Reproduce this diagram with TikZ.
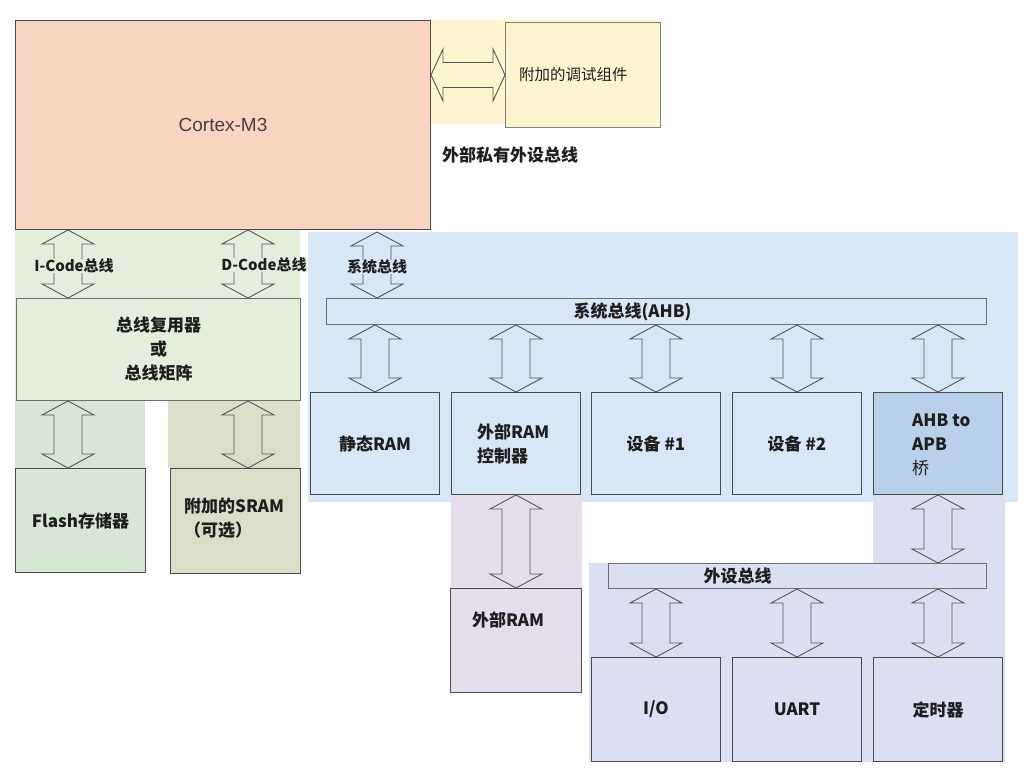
\documentclass[tikz,border=0pt]{standalone}
\usepackage{fontspec}
\setmainfont{Noto Sans CJK SC}
\newfontfamily\arialfont{Liberation Sans}
\usepackage{tikz}
\usetikzlibrary{positioning,calc}

\definecolor{cortexfill}{HTML}{F8D4C1}
\definecolor{yellowbg}{HTML}{FFF4D0}
\definecolor{greenbg}{HTML}{E2EFDA}
\definecolor{flashbg}{HTML}{D6E8D4}
\definecolor{srambg}{HTML}{DDDEC9}
\definecolor{bluebg}{HTML}{D7E7F5}
\definecolor{bridgefill}{HTML}{B8D0EA}
\definecolor{purplebg}{HTML}{E5DCEC}
\definecolor{periphbg}{HTML}{D9E0F1}
\definecolor{boxline}{HTML}{4A4A4A}
\definecolor{arrowline}{HTML}{555555}
\definecolor{textcol}{HTML}{1E1E1E}

\tikzset{BOX/.style={rectangle, draw=boxline, line width=1pt, inner sep=0pt, anchor=north west, align=center, text=textcol, font=\bfseries\fontsize{17pt}{24pt}\selectfont}}
\tikzset{BAR/.style={BOX, draw=boxline!80}}
\tikzset{LABEL/.style={inner sep=1pt, align=left, text=textcol, font=\bfseries\fontsize{17pt}{24pt}\selectfont}}
\tikzset{BUSLABEL/.style={LABEL, inner sep=0pt, font=\bfseries\fontsize{15pt}{18pt}\selectfont}}
\tikzset{BUSARROW/.style={draw=arrowline, line width=0.9pt, line join=miter}}

% hollow double arrow, top tip -> bottom tip
\newcommand{\VBUS}[2]{%
    \draw[BUSARROW] (#1) -- ++(-26,14) -- ++(12,0) -- ($(#2)+(-14,-14)$) -- ++(-12,0) -- (#2)
        -- ++(26,-14) -- ++(-12,0) -- ($(#1)+(14,14)$) -- ++(12,0) -- cycle;}
% hollow double arrow, left tip -> right tip
\newcommand{\HBUS}[2]{%
    \draw[BUSARROW] (#1) -- ++(12,-26) -- ++(0,13.5) -- ($(#2)+(-12,-12.5)$) -- ++(0,-13.5) -- (#2)
        -- ++(-12,26) -- ++(0,-13.5) -- ($(#1)+(12,12.5)$) -- ++(0,13.5) -- cycle;}

\begin{document}
\begin{tikzpicture}[x=1pt, y=-1pt]
    \useasboundingbox (0,0) rectangle (1036,774);

    % coloured areas
    \fill[yellowbg] (430,20) rectangle (660,124);
    \fill[greenbg] (15,229) rectangle (300,400);
    \fill[flashbg] (15,400) rectangle (145,468);
    \fill[srambg] (168,400) rectangle (300,468);
    \fill[bluebg] (308,232) rectangle (1018,502);
    \fill[purplebg] (451,494) rectangle (582,588);
    \fill[periphbg] (873,494) rectangle (1005,563);
    \fill[periphbg] (589,563) rectangle (1005,762);

    % core and debug
    \node[BOX, fill=cortexfill, minimum width=415pt, minimum height=209pt, font=\arialfont\fontsize{19pt}{22pt}\selectfont, text=cortexfill!30!black] (cortex) at (15,20) {Cortex-M3};
    \node[BOX, draw=boxline!70, fill=yellowbg, minimum width=155pt, minimum height=105pt] (debug) at (505,22) {};
    \node[anchor=west, text=textcol, font=\fontsize{15.5pt}{18pt}\selectfont, inner sep=0pt] (debug_txt) at ($(debug.west)+(14,-0)$) {附加的调试组件};
    \node[LABEL, anchor=west] (ppb_txt) at (441,155) {外部私有外设总线};

    \coordinate (dbg_l) at (cortex.east |- debug.west);
    \coordinate (dbg_r) at (debug.west);
    \HBUS{dbg_l}{dbg_r}

    % code side
    \node[BOX, draw=boxline!80, fill=greenbg, minimum width=284pt, minimum height=102pt] (mux) at (16,298) {总线复用器\\或\\ 总线矩阵};
    \node[BOX, fill=flashbg, minimum width=130pt, minimum height=104pt] (flash) at (15,468) {Flash存储器};
    \node[BOX, fill=srambg, minimum width=130pt, minimum height=105pt] (sram) at (170,468) {};
    \node[LABEL, anchor=west] (sram_txt) at ($(sram.west)+(13,-3)$) {附加的SRAM\\（可选）};

    \coordinate (icode_t) at (68,230);
    \coordinate (icode_b) at (icode_t |- mux.north);
    \coordinate (dcode_t) at (248,230);
    \coordinate (dcode_b) at (dcode_t |- mux.north);
    \VBUS{icode_t}{icode_b}
    \VBUS{dcode_t}{dcode_b}
    \node[BUSLABEL, fill=greenbg] (icode_txt) at (74,266) {I-Code总线};
    \node[BUSLABEL, fill=greenbg] (dcode_txt) at (264,265) {D-Code总线};

    \coordinate (flash_t) at (icode_t |- mux.south);
    \coordinate (flash_b) at (icode_t |- flash.north);
    \coordinate (sram_t) at (dcode_t |- mux.south);
    \coordinate (sram_b) at (dcode_t |- sram.north);
    \VBUS{flash_t}{flash_b}
    \VBUS{sram_t}{sram_b}

    % system bus
    \node[BAR, fill=bluebg, minimum width=660pt, minimum height=26pt] (ahb) at (326,298) {};
    \node[LABEL] (ahb_txt) at ($(ahb.center)+(-24,0)$) {系统总线(AHB)};

    \node[BOX, fill=bluebg, minimum width=129pt, minimum height=102pt] (sram_int) at (310,392) {静态RAM};
    \node[BOX, fill=bluebg, minimum width=129pt, minimum height=102pt] (extctrl) at (451,392) {};
    \node[BOX, fill=bluebg, minimum width=129pt, minimum height=102pt] (dev1) at (591,392) {设备 \#1};
    \node[BOX, fill=bluebg, minimum width=129pt, minimum height=102pt] (dev2) at (732,392) {设备 \#2};
    \node[BOX, fill=bridgefill, minimum width=129pt, minimum height=102pt] (bridge) at (873,392) {};
    \node[LABEL, anchor=west] (extctrl_txt) at ($(extctrl.west)+(25,0)$) {外部RAM\\控制器};
    \node[LABEL, anchor=west] (bridge_txt) at ($(bridge.west)+(38,1)$) {AHB to\\APB\\{\mdseries 桥}};

    \coordinate (sys_t) at (377,232);
    \coordinate (sys_b) at (sys_t |- ahb.north);
    \VBUS{sys_t}{sys_b}
    \node[BUSLABEL, fill=bluebg] (sys_txt) at (377,267) {系统总线};

    \foreach \dev in {sram_int, extctrl, dev1, dev2, bridge}
        \VBUS{ahb.south -| \dev.north}{\dev.north};

    % external RAM
    \node[BOX, fill=purplebg, minimum width=131pt, minimum height=104pt] (extram) at (450,588) {};
    \node[LABEL] (extram_txt) at ($(extram.north)+(-8,32)$) {外部RAM};
    \VBUS{extctrl.south}{extctrl.south |- extram.north}

    % peripheral bus
    \node[BAR, fill=periphbg, minimum width=378pt, minimum height=25pt] (apb) at (608,563) {};
    \node[LABEL] (apb_txt) at ($(apb.center)+(-60,0)$) {外设总线};
    \VBUS{bridge.south}{bridge.south |- apb.north}

    \node[BOX, fill=periphbg, minimum width=129pt, minimum height=104pt] (gpio) at (591,657) {I/O};
    \node[BOX, fill=periphbg, minimum width=129pt, minimum height=104pt] (uart) at (732,657) {UART};
    \node[BOX, fill=periphbg, minimum width=129pt, minimum height=104pt] (timer) at (873,657) {定时器};

    \foreach \dev in {gpio, uart, timer}
        \VBUS{apb.south -| \dev.north}{\dev.north};
\end{tikzpicture}
\end{document}
